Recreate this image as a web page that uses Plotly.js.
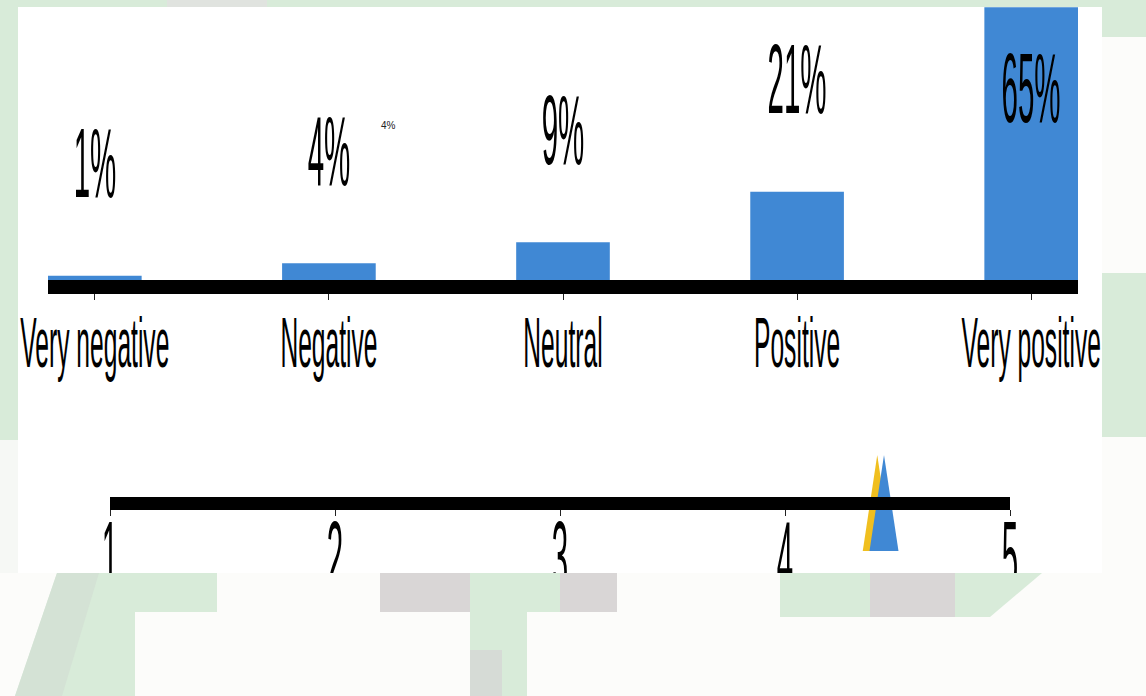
<!DOCTYPE html>
<html><head><meta charset="utf-8">
<script src="https://cdn.plot.ly/plotly-3.0.1.min.js"></script>
<style>html,body{margin:0;padding:0;background:#d8ebd9;overflow:hidden}#chart{width:1146px;height:696px}</style>
</head><body><div id="chart"></div>
<script>
// ---- data ----
const categories = ['Very negative', 'Negative', 'Neutral', 'Positive', 'Very positive'];
const shares = [1, 4, 9, 21, 65];
const shareLabels = ['1%', '4%', '9%', '21%', '65%'];
const scaleTicks = [1, 2, 3, 4, 5];
const scaleTickLabels = ['1', '2', '3', '4', '5'];
const markerNames = ['Comparison', 'Average'];
const markerValues = [4.41, 4.44];
const strayLabel = '4%';

// ---- style ----
const W = 1146, H = 696;
const BLUE = '#4088d4', YELLOW = '#f0bf1f';
const GREEN = '#d8ebd9', GRAY = '#d9d6d6', OFFWHITE = '#fcfcfa';
const FONT = 'Liberation Sans, Arial, sans-serif';
const px = x => x / W, py = y => 1 - y / H;

function rect(x0, y0, x1, y1, color, layer) {
  return {type: 'rect', xref: 'paper', yref: 'paper', x0: px(x0), x1: px(x1), y0: py(y1), y1: py(y0),
    fillcolor: color, line: {width: 0}, layer: layer || 'below'};
}
function poly(pts, color, layer) {
  const d = pts.map((p, i) => (i ? 'L' : 'M') + px(p[0]) + ',' + py(p[1])).join(' ') + ' Z';
  return {type: 'path', xref: 'paper', yref: 'paper', path: d, fillcolor: color, line: {width: 0}, layer: layer || 'below'};
}

const shapes = [
  rect(167, 0, 267, 7, '#e0e3df'),
  rect(18, 7, 1102, 573, '#ffffff'),
  rect(1102, 37, 1146, 273, OFFWHITE),
  rect(1102, 437, 1146, 573, OFFWHITE),
  rect(0, 440, 18, 573, '#f6f8f5'),
  // bottom overlay (covers the lower part of the scale labels)
  rect(0, 573, 1146, 696, OFFWHITE, 'above'),
  poly([[57, 573], [217, 573], [217, 612], [135, 612], [135, 696], [15, 696]], GREEN, 'above'),
  poly([[57, 573], [99, 573], [62, 696], [15, 696]], '#d4e2d5', 'above'),
  rect(380, 573, 470, 612, GRAY, 'above'),
  rect(470, 573, 560, 612, GREEN, 'above'),
  rect(560, 573, 617, 612, GRAY, 'above'),
  rect(470, 612, 527, 696, GREEN, 'above'),
  rect(470, 650, 502, 696, '#d6dbd6', 'above'),
  rect(780, 573, 870, 617, GREEN, 'above'),
  rect(870, 573, 955, 617, GRAY, 'above'),
  poly([[955, 573], [1042, 573], [990, 617], [955, 617]], GREEN, 'above')
];

// triangles on the 1-5 scale, positioned through xaxis2
const TRI_HALF = 0.0644, TRI_TOP = py(455), TRI_BASE = py(551);
const markerColors = [YELLOW, BLUE];
markerValues.forEach((v, i) => {
  shapes.push({type: 'path', xref: 'x2', yref: 'paper', layer: 'below',
    path: `M${v - TRI_HALF},${TRI_BASE} L${v},${TRI_TOP} L${v + TRI_HALF},${TRI_BASE} Z`,
    fillcolor: markerColors[i], line: {width: 0}, name: markerNames[i]});
});

const annotations = shares.map((v, i) => ({
  x: categories[i], y: v, xref: 'x', yref: 'y', text: shareLabels[i], showarrow: false,
  yanchor: 'middle', yshift: v > 50 ? -80 : 113,
  font: {family: FONT, size: 36, color: '#000'}
}));
annotations.push({x: px(388), y: py(118), xref: 'paper', yref: 'paper', text: strayLabel,
  showarrow: false, font: {family: FONT, size: 10, color: '#222'}});

const data = [
  {type: 'bar', x: categories, y: shares, xaxis: 'x', yaxis: 'y', marker: {color: BLUE},
   hoverinfo: 'skip', showlegend: false},
  {type: 'scatter', mode: 'markers', x: markerValues, y: [0, 0], xaxis: 'x2', yaxis: 'y2',
   marker: {opacity: 0}, hoverinfo: 'skip', showlegend: false}
];

const layout = {
  width: W, height: H, margin: {l: 0, r: 0, t: 0, b: 0, pad: 0},
  paper_bgcolor: GREEN, plot_bgcolor: 'rgba(0,0,0,0)',
  showlegend: false, bargap: 0.6,
  xaxis: {domain: [px(48), px(1078)], range: [-0.2, 4.2], anchor: 'y',
    showline: true, linewidth: 14, linecolor: '#000', ticks: 'outside', ticklen: 6, tickwidth: 1,
    tickcolor: '#222', showgrid: false, zeroline: false, ticklabelstandoff: 3,
    tickfont: {family: FONT, size: 30, color: '#000'}},
  yaxis: {domain: [py(280), 1], range: [0, 66.7], anchor: 'x', visible: false},
  xaxis2: {domain: [px(110), px(1010)], range: [1, 5], anchor: 'y2',
    tickvals: scaleTicks, ticktext: scaleTickLabels, tickmode: 'array',
    showline: true, linewidth: 13, linecolor: '#000', ticks: 'outside', ticklen: 6, tickwidth: 1,
    tickcolor: '#222', showgrid: false, zeroline: false,
    tickfont: {family: FONT, size: 36, color: '#000'}},
  yaxis2: {domain: [py(497), py(455)], range: [0, 1], anchor: 'x2', visible: false},
  shapes: shapes, annotations: annotations
};

function stretch(el, sx, sy, anchorTop, dy) {
  const b = el.getBBox();
  const fs = parseFloat(el.style.fontSize) || 12;
  const cx = b.x + b.width / 2;
  const cy = anchorTop ? b.y + 0.189 * fs : b.y + b.height / 2;
  const t = el.getAttribute('transform') || '';
  el.setAttribute('transform',
    `${t} translate(0,${dy || 0}) translate(${cx},${cy}) scale(${sx},${sy}) translate(${-cx},${-cy})`);
}

Plotly.newPlot('chart', data, layout, {staticPlot: true, displayModeBar: false}).then(gd => {
  gd.querySelectorAll('g.xtick text').forEach(t => stretch(t, 0.82, 2.33, true, 0));
  gd.querySelectorAll('g.x2tick text').forEach(t => stretch(t, 0.82, 2.75, true, -15));
  gd.querySelectorAll('text.annotation-text').forEach(t => {
    if (parseFloat(t.style.fontSize) > 20) stretch(t, 0.82, 2.75, false, 0);
  });
});
</script></body></html>
